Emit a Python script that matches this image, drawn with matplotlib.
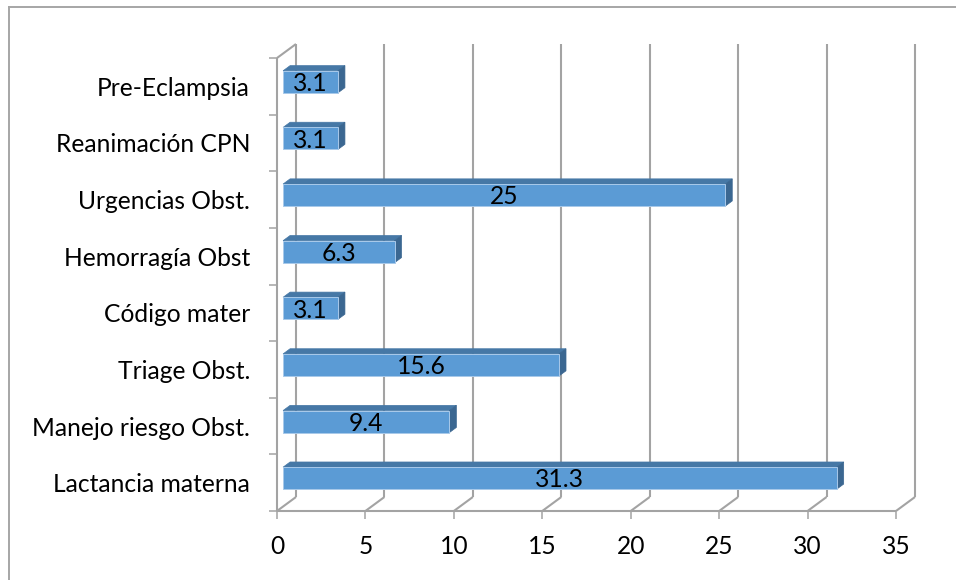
import matplotlib
matplotlib.use("Agg")
import matplotlib.pyplot as plt
from matplotlib.patches import Rectangle, Polygon
from matplotlib.lines import Line2D

plt.rcParams['font.family'] = ['Lato', 'DejaVu Sans']

# Data
categories = ["Lactancia materna", "Manejo riesgo Obst.", "Triage Obst.",
              "Código mater", "Hemorragía Obst", "Urgencias Obst.",
              "Reanimación CPN", "Pre-Eclampsia"]
values = [31.3, 9.4, 15.6, 3.1, 6.3, 25, 3.1, 3.1]
x_ticks = [0, 5, 10, 15, 20, 25, 30, 35]

# Styling
W, H = 956, 580
GRID = "#a3a3a3"
FRONT = "#5b9bd5"
TOP = "#4678a6"
SIDE = "#3b6791"
DEPTH_PX = (19, 14)          # receding offset of the back wall, pixels
BAR_FRONT = 0.32             # bar front face position within the depth
BAR_DEPTH = 0.37             # bar thickness within the depth
BAR_H = 0.39                 # bar height in category units
FS = 17.7

fig = plt.figure(figsize=(W / 100, H / 100), dpi=100)
ax = fig.add_axes([277 / W, (H - 511) / H, (896 - 277) / W, (511 - 58) / H])
ax.set_xlim(0, 35)
ax.set_ylim(0, len(categories))
for s in ax.spines.values():
    s.set_visible(False)
ax.set_facecolor("none")

# pixel offsets -> data offsets
inv = ax.transData.inverted()
p0 = inv.transform((0, 0))
p1 = inv.transform(DEPTH_PX)
dx, dy = p1[0] - p0[0], p1[1] - p0[1]
ymax = len(categories)

lk = dict(color=GRID, lw=1.5, clip_on=False, zorder=1, solid_capstyle="butt")
# floor front edge and left wall
ax.plot([0, 35], [0, 0], **lk)
ax.plot([0, 0], [0, ymax], **lk)
ax.plot([0, dx], [ymax, ymax + dy], **lk)
# back wall gridlines and floor diagonals
for t in x_ticks:
    ax.plot([t, t + dx], [0, dy], **lk)
    ax.plot([t + dx, t + dx], [dy, ymax + dy], **lk)

# bars
fx, fy = BAR_FRONT * dx, BAR_FRONT * dy
bx, by = BAR_DEPTH * dx, BAR_DEPTH * dy
for i, v in enumerate(values):
    c = i + 0.5
    y0 = c - BAR_H / 2 + fy
    y1 = c + BAR_H / 2 + fy
    top = Polygon([(fx, y1), (fx + v, y1), (fx + v + bx, y1 + by), (fx + bx, y1 + by)],
                  closed=True, facecolor=TOP, edgecolor=TOP, lw=0.5, zorder=3, clip_on=False)
    side = Polygon([(fx + v, y0), (fx + v + bx, y0 + by), (fx + v + bx, y1 + by), (fx + v, y1)],
                   closed=True, facecolor=SIDE, edgecolor=SIDE, lw=0.5, zorder=3, clip_on=False)
    front = Rectangle((fx, y0), v, BAR_H, facecolor=FRONT, edgecolor="#a8c9ea",
                      lw=0.7, zorder=4, clip_on=False)
    for p in (top, side, front):
        ax.add_patch(p)
    ax.text(fx + v / 2, c + fy - 0.03, f"{v:g}", ha="center", va="center",
            fontsize=FS, color="black", zorder=5)

# axes ticks and labels
ax.set_xticks(x_ticks)
ax.set_xticklabels([str(t) for t in x_ticks], fontsize=FS)
ax.tick_params(axis="x", length=5.8, width=1.1, color=GRID, pad=11.5)
ax.set_yticks(range(0, ymax + 1))
ax.set_yticklabels([])
ax.tick_params(axis="y", which="major", length=5.8, width=1.1, color=GRID)
ax.set_yticks([i + 0.5 for i in range(ymax)], minor=True)
ax.set_yticklabels(categories, minor=True, fontsize=FS)
ax.tick_params(axis="y", which="minor", length=0, pad=19.4)

# chart area frame
fk = dict(color="#a6a6a6", lw=1.4)
fig.add_artist(Line2D([8.5 / W, 8.5 / W], [0, 1 - 6.5 / H], **fk))
fig.add_artist(Line2D([8.5 / W, 1], [1 - 6.5 / H, 1 - 6.5 / H], **fk))

fig.savefig("out.png", dpi=100, facecolor="white")
